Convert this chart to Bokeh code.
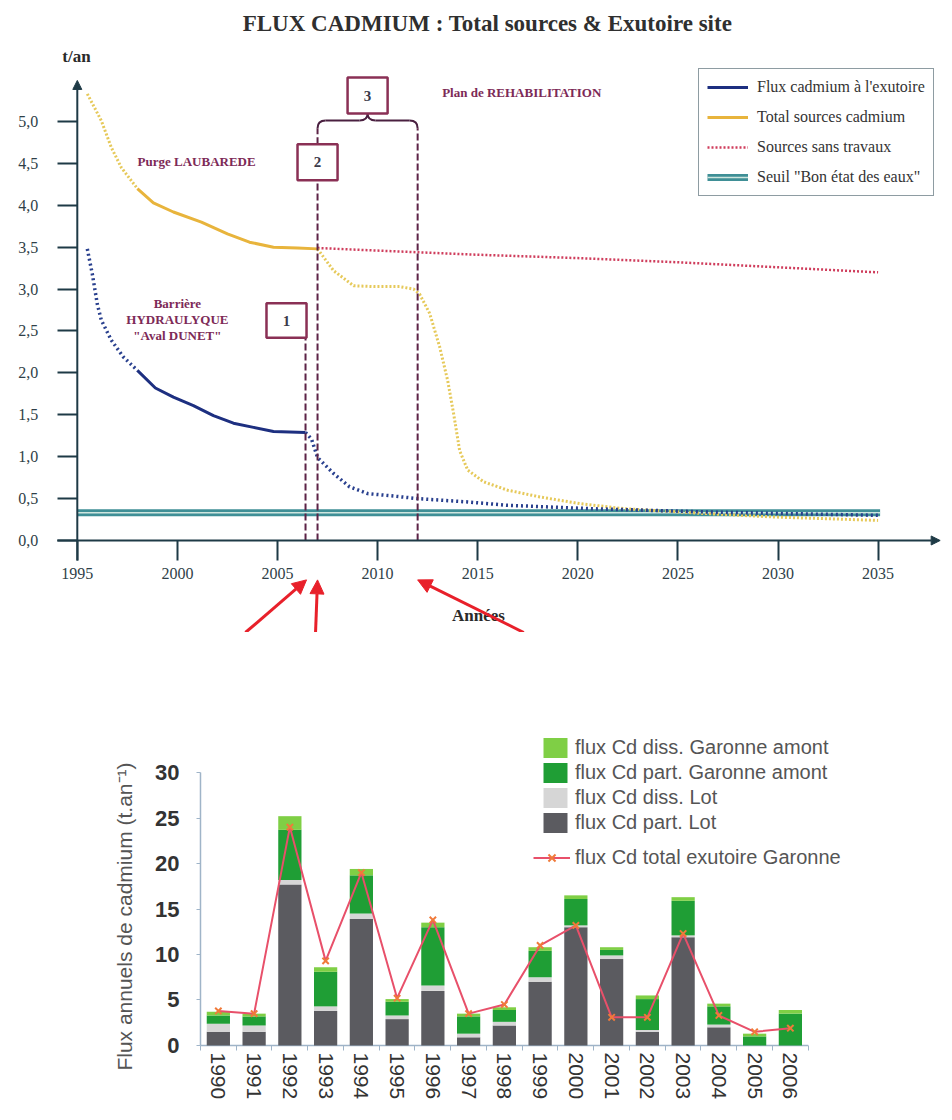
import math
from bokeh.plotting import figure
from bokeh.models import (Range1d, FixedTicker, CustomJSTickFormatter, Label, Arrow,
                          NormalHead, Legend, LegendItem)
from bokeh.layouts import column
from bokeh.embed import file_html
from bokeh.resources import INLINE

SERIF = "Liberation Serif"
SANS = "Liberation Sans"

# ---------------- data : top chart (t/an) ----------------
total_years = [1995.5, 1996.2, 1996.7, 1997.2, 1998.0, 1998.8, 1999.8, 2001.2, 2002.5,
               2003.6, 2004.8, 2006.0, 2007.0, 2007.8, 2008.8, 2009.8, 2011.1, 2011.8,
               2012.1, 2012.6, 2013.1, 2013.5, 2013.8, 2014.1, 2014.5, 2015.3, 2016.5,
               2018.1, 2020.1, 2022.3, 2026.5, 2029.8, 2035.0]
total_vals = [5.33, 5.01, 4.69, 4.45, 4.20, 4.03, 3.92, 3.80, 3.66,
              3.56, 3.50, 3.49, 3.48, 3.22, 3.04, 3.03, 3.03, 3.00,
              2.94, 2.71, 2.31, 1.91, 1.51, 1.07, 0.84, 0.70, 0.60,
              0.52, 0.44, 0.38, 0.32, 0.28, 0.24]

exu_years = [1995.5, 1995.75, 1996.0, 1996.2, 1996.7, 1997.3, 1998.0, 1998.9, 1999.8,
             2000.8, 2001.8, 2002.8, 2003.8, 2004.8, 2006.4, 2006.7, 2007.0, 2007.8,
             2008.6, 2009.5, 2010.8, 2012.0, 2014.5, 2016.5, 2020.6, 2026.5, 2035.0]
exu_vals = [3.48, 3.18, 2.82, 2.63, 2.39, 2.19, 2.03, 1.82, 1.71,
            1.61, 1.49, 1.40, 1.35, 1.30, 1.29, 1.21, 0.99, 0.80,
            0.64, 0.56, 0.53, 0.50, 0.46, 0.42, 0.38, 0.34, 0.30]

sans_years = [2007.0, 2012.0, 2015.0, 2020.0, 2025.0, 2030.0, 2035.0]
sans_vals = [3.49, 3.44, 3.41, 3.37, 3.32, 3.26, 3.20]

seuil_years = [1995.0, 2035.1]
seuil_vals = [0.33, 0.33]

event_years = [2006.4, 2007.0, 2012.0]      # steps 1, 2, 3
event_labels = ["1", "2", "3"]
gold_solid = (1998.0, 2007.0)
blue_solid = (1998.0, 2006.4)

top_xticks = [1995, 2000, 2005, 2010, 2015, 2020, 2025, 2030, 2035]
top_yticks = [0.0, 0.5, 1.0, 1.5, 2.0, 2.5, 3.0, 3.5, 4.0, 4.5, 5.0]

# ---------------- data : bottom chart (t/an) ----------------
bar_years = [1990, 1991, 1992, 1993, 1994, 1995, 1996, 1997, 1998,
             1999, 2000, 2001, 2002, 2003, 2004, 2005, 2006]
part_lot = [1.5, 1.5, 17.7, 3.8, 13.9, 2.9, 6.0, 0.9, 2.2, 7.0, 13.0, 9.5, 1.5, 11.9, 2.0, 0.0, 0.0]
diss_lot = [0.9, 0.7, 0.5, 0.5, 0.6, 0.4, 0.6, 0.4, 0.4, 0.5, 0.2, 0.4, 0.2, 0.2, 0.3, 0.0, 0.0]
part_gar = [0.9, 1.0, 5.5, 3.8, 4.2, 1.5, 6.4, 1.9, 1.3, 2.9, 2.9, 0.6, 3.4, 3.8, 2.0, 1.0, 3.5]
diss_gar = [0.4, 0.3, 1.5, 0.5, 0.7, 0.3, 0.5, 0.3, 0.3, 0.4, 0.4, 0.3, 0.4, 0.4, 0.3, 0.3, 0.4]
total_exu = [3.8, 3.5, 24.0, 9.3, 19.0, 5.2, 13.8, 3.5, 4.5, 11.0, 13.2, 3.1, 3.1, 12.3, 3.3, 1.5, 1.9]
bot_yticks = [0, 5, 10, 15, 20, 25, 30]

# ---------------- styles ----------------
AXIS = "#1e3a46"
GOLD = "#e8b43c"
GOLD_DOT = "#e6c95a"
BLUE = "#1d2f80"
BLUE_DOT = "#283f8e"
RED_DOT = "#cf3d5c"
TEAL = "#3f8f96"
TEAL_LIGHT = "#cfe6df"
MAROON = "#8a3055"
DASHV = "#5c2346"
NOTE = "#7d2a57"
ARROW_RED = "#e8202a"
BAX = "#9fb4c8"


def runs(xs, ys, lo, hi):
    pts = list(zip(xs, ys))
    before = [p for p in pts if p[0] <= lo]
    inside = [p for p in pts if lo <= p[0] <= hi]
    after = [p for p in pts if p[0] >= hi]
    return [([p[0] for p in r], [p[1] for p in r]) for r in (before, inside, after)]


# ======================= TOP FIGURE =======================
top = figure(width=952, height=632,
             x_range=Range1d(1991.164, 2038.716), y_range=Range1d(-1.098, 6.444),
             output_backend="svg", toolbar_location=None,
             min_border=0, min_border_left=0, min_border_right=0,
             min_border_top=0, min_border_bottom=0)
top.outline_line_color = None
top.xgrid.visible = False
top.ygrid.visible = False

top.xaxis.fixed_location = 0
top.yaxis.fixed_location = 1995
top.xaxis.ticker = FixedTicker(ticks=top_xticks, minor_ticks=[])
top.yaxis.ticker = FixedTicker(ticks=top_yticks, minor_ticks=[])
top.yaxis.formatter = CustomJSTickFormatter(code="return tick.toFixed(1).replace('.', ',');")
for ax in (top.xaxis, top.yaxis):
    ax.axis_line_color = None
    ax.major_tick_line_color = AXIS
    ax.major_tick_line_width = 2
    ax.major_tick_in = 0
    ax.major_tick_out = 20
    ax.minor_tick_line_color = None
    ax.major_label_text_font = SERIF
    ax.major_label_text_font_size = "16px"
    ax.major_label_text_color = "#2f3f48"
top.xaxis.major_label_standoff = 8
top.yaxis.major_label_standoff = 19

# axis lines with arrow heads
top.add_layout(Arrow(end=NormalHead(size=9, fill_color=AXIS, line_color=AXIS),
                     x_start=1994.0, y_start=0, x_end=2038.1, y_end=0,
                     line_color=AXIS, line_width=2))
top.add_layout(Arrow(end=NormalHead(size=9, fill_color=AXIS, line_color=AXIS),
                     x_start=1995, y_start=-0.24, x_end=1995, y_end=5.49,
                     line_color=AXIS, line_width=2))

# threshold (double teal line)
r_seuil_a = top.line(seuil_years, seuil_vals, line_color=TEAL, line_width=7)
r_seuil_b = top.line(seuil_years, seuil_vals, line_color=TEAL_LIGHT, line_width=1.5)

# sources without works
r_sans = top.line(sans_years, sans_vals, line_color=RED_DOT, line_width=2.5, line_dash="2 2")

# total sources
g_pre, g_mid, g_post = runs(total_years, total_vals, *gold_solid)
top.line(*g_pre, line_color=GOLD_DOT, line_width=3, line_dash="2 2")
r_gold = top.line(*g_mid, line_color=GOLD, line_width=3)
top.line(*g_post, line_color=GOLD_DOT, line_width=3, line_dash="2 2")

# outlet flux
b_pre, b_mid, b_post = runs(exu_years, exu_vals, *blue_solid)
top.line(*b_pre, line_color=BLUE_DOT, line_width=3.5, line_dash="2 3")
r_blue = top.line(*b_mid, line_color=BLUE, line_width=3)
top.line(*b_post, line_color=BLUE_DOT, line_width=3.5, line_dash="2 3")

# step boxes, dashed verticals and brace
BOX_W = 1.0
box1_bottom, box1_top = 2.42, 2.83
box2_bottom, box2_top = 4.30, 4.73
box3_bottom, box3_top = 5.095, 5.525
brace_y, brace_end = 5.012, 4.92
e1, e2, e3 = event_years
mid3 = (e2 + e3) / 2

top.segment(x0=[e1, e2, e2, e3], y0=[0, 0, box2_top, 0],
            x1=[e1, e2, e2, e3], y1=[box1_bottom, box2_bottom, brace_end, brace_end],
            line_color=DASHV, line_width=2, line_dash="7 3")

top.quadratic(x0=[e2, mid3, mid3, e3 - 0.4],
              y0=[brace_end, box3_bottom, box3_bottom, brace_y],
              x1=[e2 + 0.4, mid3 - 0.4, mid3 + 0.4, e3],
              y1=[brace_y, brace_y, brace_y, brace_end],
              cx=[e2, mid3, mid3, e3], cy=[brace_y, brace_y, brace_y, brace_y],
              line_color="#4a2040", line_width=2)
top.segment(x0=[e2 + 0.4, mid3 + 0.4], y0=[brace_y, brace_y],
            x1=[mid3 - 0.4, e3 - 0.4], y1=[brace_y, brace_y],
            line_color="#4a2040", line_width=2)

top.quad(left=[e1 - 2 * BOX_W + 0.05, e2 - BOX_W, mid3 - BOX_W],
         right=[e1 + 0.05, e2 + BOX_W, mid3 + BOX_W],
         bottom=[box1_bottom, box2_bottom, box3_bottom],
         top=[box1_top, box2_top, box3_top],
         fill_color="white", line_color=MAROON, line_width=2.5)
for cx, cy, t in zip([e1 - BOX_W + 0.05, e2, mid3],
                     [(box1_bottom + box1_top) / 2, (box2_bottom + box2_top) / 2,
                      (box3_bottom + box3_top) / 2], event_labels):
    top.add_layout(Label(x=cx, y=cy, text=t, text_font=SERIF, text_font_size="15px",
                         text_font_style="bold", text_color="#3a3a4a",
                         text_align="center", text_baseline="middle"))


def note(x, y, t, size="13px", color=NOTE):
    top.add_layout(Label(x=x, y=y, text=t, text_font=SERIF, text_font_size=size,
                         text_font_style="bold", text_color=color,
                         text_align="center", text_baseline="middle"))


note(2015.49, 6.17, "FLUX CADMIUM : Total sources & Exutoire site", "23px", "#2f2f2f")
note(1994.96, 5.78, "t/an", "17px", "#2a2a2a")
note(2015.04, -0.90, "Années", "17px", "#2a2a2a")
note(2017.2, 5.35, "Plan de REHABILITATION")
note(2000.96, 4.52, "Purge LAUBAREDE")
note(2000.0, 2.83, "Barrière")
note(2000.0, 2.64, "HYDRAULYQUE")
note(2000.0, 2.45, "\"Aval DUNET\"")

# red pointer arrows
for xs, xe in zip([2003.4, 2006.9, 2017.3], event_years):
    top.add_layout(Arrow(end=NormalHead(size=14, fill_color=ARROW_RED, line_color=ARROW_RED),
                         x_start=xs, y_start=-1.098, x_end=xe + (0.05 if xe == e1 else 0),
                         y_end=-0.47, line_color=ARROW_RED, line_width=3))

leg_top = Legend(items=[
    LegendItem(label="Flux cadmium à l'exutoire", renderers=[r_blue]),
    LegendItem(label="Total sources cadmium", renderers=[r_gold]),
    LegendItem(label="Sources sans travaux", renderers=[r_sans]),
    LegendItem(label="Seuil \"Bon état des eaux\"", renderers=[r_seuil_a, r_seuil_b]),
], location=(698, 436), border_line_color=AXIS, border_line_width=1.5,
    background_fill_color="white", background_fill_alpha=1.0, padding=8, spacing=10,
    glyph_width=41, glyph_height=20, label_height=20, label_standoff=9, margin=0,
    label_text_font=SERIF, label_text_font_size="16px", label_text_color="#333333")
top.add_layout(leg_top)

# ======================= BOTTOM FIGURE =======================
bot = figure(width=952, height=488,
             x_range=Range1d(1983.906, 2010.535), y_range=Range1d(-8.242, 45.385),
             output_backend="svg", toolbar_location=None,
             min_border=0, min_border_left=0, min_border_right=0,
             min_border_top=0, min_border_bottom=0)
bot.outline_line_color = None
bot.xgrid.visible = False
bot.ygrid.visible = False

bot.xaxis.fixed_location = 0
bot.yaxis.fixed_location = bar_years[0] - 0.5
bot.xaxis.ticker = FixedTicker(ticks=bar_years,
                               minor_ticks=[y - 0.5 for y in bar_years] + [bar_years[-1] + 0.5])
bot.yaxis.ticker = FixedTicker(ticks=bot_yticks, minor_ticks=[])
for ax in (bot.xaxis, bot.yaxis):
    ax.axis_line_color = None
    ax.major_tick_line_color = BAX
    ax.minor_tick_line_color = BAX
    ax.major_tick_in = 0
    ax.minor_tick_in = 0
    ax.major_label_text_font = SANS
    ax.major_label_text_color = "#333333"
bot.xaxis.major_tick_out = 0
bot.xaxis.minor_tick_out = 5
bot.xaxis.major_label_orientation = "vertical"
bot.xaxis.major_label_text_font_size = "21px"
bot.xaxis.major_label_standoff = 2
bot.yaxis.major_tick_out = 4
bot.yaxis.major_label_text_font_size = "22px"
bot.yaxis.major_label_text_font_style = "bold"
bot.yaxis.major_label_standoff = 17

bot.add_layout(Label(x=1987.374, y=14.17, angle=math.pi / 2,
                     text="Flux annuels de cadmium (t.an⁻¹)", text_font=SANS,
                     text_font_size="21px", text_color="#555555",
                     text_align="center", text_baseline="middle"))

bot.segment(x0=[bar_years[0] - 0.5, bar_years[0] - 0.5], y0=[0, 0],
            x1=[bar_years[0] - 0.5, bar_years[-1] + 0.5], y1=[30, 0],
            line_color=BAX, line_width=1.5)

src = dict(year=bar_years, part_lot=part_lot, diss_lot=diss_lot,
           part_gar=part_gar, diss_gar=diss_gar)
stack_cols = ["part_lot", "diss_lot", "part_gar", "diss_gar"]
stack_colors = ["#5b5b60", "#d6d6d6", "#1f9e35", "#7fcf45"]
bars = bot.vbar_stack(stack_cols, x="year", width=0.65, color=stack_colors,
                      line_color=None, source=src)

# legend swatches (no data, only used to draw full-size legend squares)
swatches = [bot.line(x=[], y=[], line_color=c, line_width=25, line_cap="butt")
            for c in stack_colors]

r_tl = bot.line(bar_years, total_exu, line_color="#e8506a", line_width=2)
r_tm = bot.scatter(bar_years, total_exu, marker="x", size=9, line_color="#f07a3a", line_width=2)

leg_a = Legend(items=[
    LegendItem(label="flux Cd diss. Garonne amont", renderers=[bars[3], swatches[3]]),
    LegendItem(label="flux Cd part. Garonne amont", renderers=[bars[2], swatches[2]]),
    LegendItem(label="flux Cd diss. Lot", renderers=[bars[1], swatches[1]]),
    LegendItem(label="flux Cd part. Lot", renderers=[bars[0], swatches[0]]),
], location=(540, 285), border_line_color=None, background_fill_alpha=0, padding=0,
    spacing=0, glyph_width=30, glyph_height=25, label_height=25, label_standoff=5, margin=0,
    label_text_font=SANS, label_text_font_size="20px", label_text_color="#555555")
bot.add_layout(leg_a)

leg_b = Legend(items=[
    LegendItem(label="flux Cd total exutoire Garonne", renderers=[r_tl, r_tm]),
], location=(533, 250), border_line_color=None, background_fill_alpha=0, padding=0,
    spacing=0, glyph_width=37, glyph_height=25, label_height=25, label_standoff=5, margin=0,
    label_text_font=SANS, label_text_font_size="20px", label_text_color="#555555")
bot.add_layout(leg_b)

layout = column(top, bot, spacing=0)
open("out.html", "w").write(file_html(layout, INLINE))
